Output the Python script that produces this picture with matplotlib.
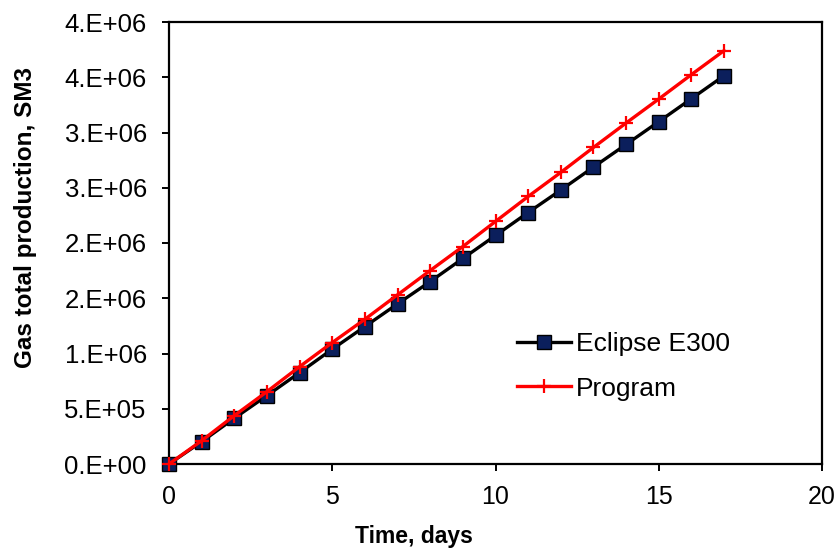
import matplotlib
matplotlib.use("Agg")
import matplotlib.pyplot as plt

plt.rcParams['font.family'] = ['Liberation Sans', 'DejaVu Sans']

# Cumulative gas production, SM3, one value per day
days = list(range(18))
eclipse_e300 = [0.0, 0.202e6, 0.414e6, 0.619e6, 0.827e6, 1.039e6, 1.244e6,
                1.449e6, 1.651e6, 1.860e6, 2.068e6, 2.276e6, 2.479e6,
                2.687e6, 2.892e6, 3.098e6, 3.306e6, 3.514e6]
program = [0.0, 0.211e6, 0.438e6, 0.655e6, 0.881e6, 1.099e6, 1.310e6,
           1.531e6, 1.751e6, 1.968e6, 2.195e6, 2.421e6, 2.639e6,
           2.865e6, 3.086e6, 3.303e6, 3.524e6, 3.741e6]

x_ticks = [0, 5, 10, 15, 20]
y_ticks = [0.0, 0.5e6, 1.0e6, 1.5e6, 2.0e6, 2.5e6, 3.0e6, 3.5e6, 4.0e6]
y_tick_labels = ['0.E+00', '5.E+05', '1.E+06', '2.E+06', '2.E+06',
                 '3.E+06', '3.E+06', '4.E+06', '4.E+06']

fig = plt.figure(figsize=(8.4, 5.55), dpi=100)
ax = fig.add_axes([169 / 840, 1 - 464 / 555, (822 - 169) / 840, (464 - 22) / 555])

ax.plot(days, eclipse_e300, color='black', lw=2.4, marker='s', ms=9.5,
        mfc='#0b1f5c', mec='black', mew=1.0, clip_on=False, zorder=3,
        label='Eclipse E300')
ax.plot(days, program, color='#ff0000', lw=2.4, marker='+', ms=10,
        mew=1.6, clip_on=False, zorder=4, label='Program')

ax.set_xlim(0, 20)
ax.set_ylim(0, 4.0e6)
ax.set_xticks(x_ticks)
ax.set_xticklabels([str(t) for t in x_ticks])
ax.set_yticks(y_ticks)
ax.set_yticklabels(y_tick_labels)

for side in ax.spines.values():
    side.set_linewidth(1.6)
    side.set_color('black')
ax.tick_params(axis='both', direction='out', length=5, width=1.4,
               colors='black')
ax.tick_params(axis='x', pad=10, labelsize=18)
ax.tick_params(axis='y', pad=11, labelsize=18.5)

fig.text(414 / 840, 1 - 537 / 555, 'Time, days', fontsize=16.5,
         fontweight='bold', ha='center', va='center')
fig.text(26 / 840, 1 - 218 / 555, 'Gas total production, SM3', fontsize=17.5,
         fontweight='bold', ha='center', va='center', rotation=90)

leg = ax.legend(loc='upper left', bbox_to_anchor=(517 / 840, 1 - 332 / 555),
                bbox_transform=fig.transFigure, frameon=False, fontsize=19,
                numpoints=1, handlelength=2.05, handletextpad=0.2,
                labelspacing=0.78, borderaxespad=0, borderpad=0)

fig.savefig('out.png', dpi=100)
